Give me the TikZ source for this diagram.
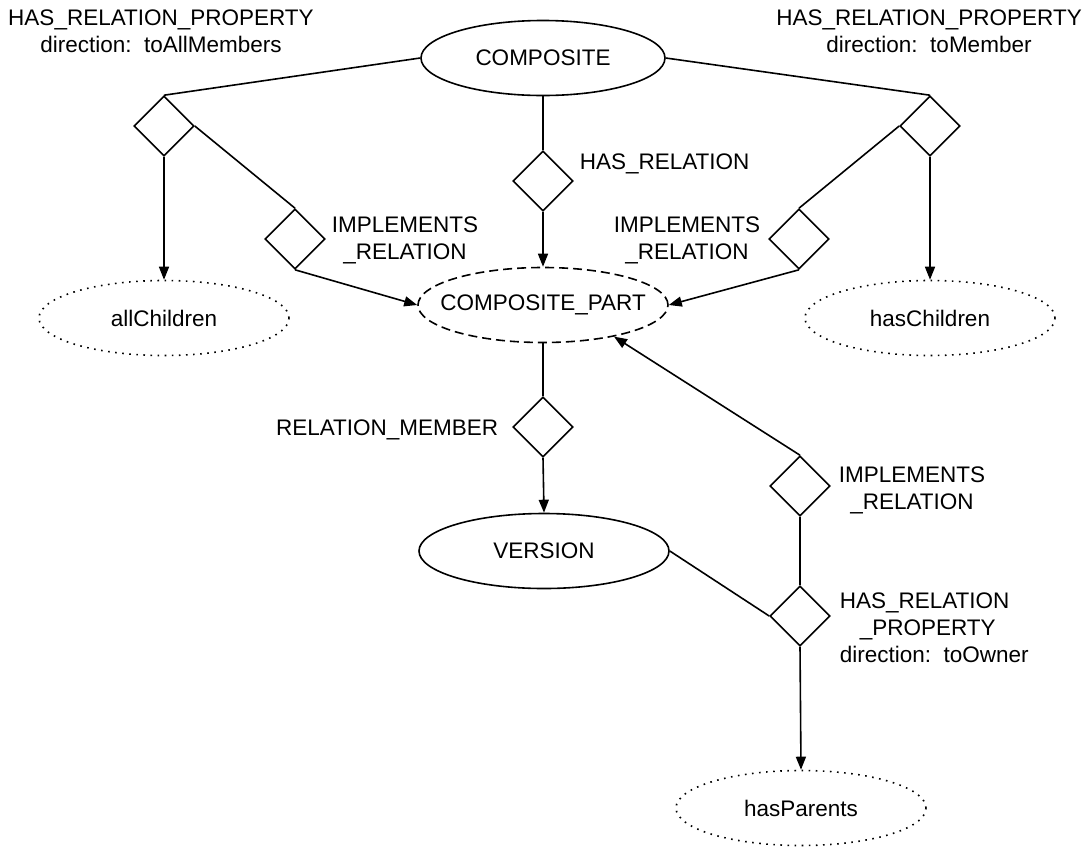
\documentclass[tikz,border=0pt]{standalone}
\usepackage{fontspec}
\setmainfont{Liberation Sans}
\usetikzlibrary{shapes.geometric,arrows.meta}
\begin{document}
\begin{tikzpicture}[x=1pt,y=-1pt,
  line width=1.6pt,
  every node/.style={font=\fontsize{22.5}{27}\selectfont, inner sep=0pt},
  ent/.style={ellipse, draw, minimum width=250pt, minimum height=75pt},
  dashedent/.style={ent, dash pattern=on 9pt off 5pt},
  dottedent/.style={ent, dash pattern=on 1.6pt off 5.5pt},
  rel/.style={diamond, draw, minimum width=60pt, minimum height=60pt, aspect=1},
  lab/.style={align=center, anchor=north},
  arr/.style={-{Triangle[length=13pt,width=10pt]}}
]
\useasboundingbox (0,0) rectangle (1086,847);

% entities
\node[ent, minimum width=244pt] (comp) at (543,58) {\makebox[0pt]{COMPOSITE}};
\node[dashedent] (cp) at (543,305) {\makebox[0pt]{COMPOSITE\_PART}};
\node[ent] (ver) at (544,551) {\makebox[0pt]{VERSION}};
\node[dottedent] (allc) at (164,318) {\makebox[0pt]{allChildren}};
\node[dottedent] (hasc) at (930,318) {\makebox[0pt]{hasChildren}};
\node[dottedent] (hasp) at (801,808) {\makebox[0pt]{hasParents}};

% relationships
\node[rel] (d1) at (164,126) {};
\node[rel] (d2) at (295,239) {};
\node[rel] (d3) at (543,181) {};
\node[rel] (d4) at (930,126) {};
\node[rel] (d5) at (799,239) {};
\node[rel] (d6) at (543,427) {};
\node[rel] (d7) at (800,486) {};
\node[rel] (d8) at (800,616) {};

% connectors
\draw (comp.west) -- (d1.north);
\draw (comp.east) -- (d4.north);
\draw (d1.east) -- (d2.north);
\draw (d4.west) -- (d5.north);
\draw[arr] (d1.south) -- (allc.north);
\draw[arr] (d4.south) -- (hasc.north);
\draw[arr] (d2.south) -- (cp.west);
\draw[arr] (d5.south) -- (cp.east);
\draw (comp.south) -- (d3.north);
\draw[arr] (d3.south) -- (cp.north);
\draw (cp.south) -- (d6.north);
\draw[arr] (d6.south) -- (ver.north);
\draw[arr] (d7.north) -- (cp.-24);
\draw (d7.south) -- (d8.north);
\draw (ver.east) -- (d8.west);
\draw[arr] (d8.south) -- (hasp.north);

% labels
\node[lab] (l1) at (161,9) {HAS\_RELATION\_PROPERTY\\direction:\ \ toAllMembers};
\node[lab] (l2) at (929,9) {HAS\_RELATION\_PROPERTY\\direction:\ \ toMember};
\node[anchor=north west] (l3) at (579,153) {HAS\_RELATION};
\node[lab] (l4) at (405,216) {IMPLEMENTS\\\_RELATION};
\node[lab] (l5) at (687,216) {IMPLEMENTS\\\_RELATION};
\node[anchor=base east] (l6) at (499,435) {RELATION\_MEMBER};
\node[lab] (l7) at (912,466) {IMPLEMENTS\\\_RELATION};
\node[anchor=north west, align=left] (l8) at (839,592) {HAS\_RELATION\\\hspace*{20pt}\_PROPERTY\\direction:\ \ toOwner};
\end{tikzpicture}
\end{document}
